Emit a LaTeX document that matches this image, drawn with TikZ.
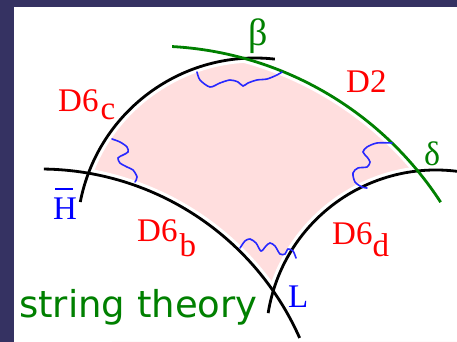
\documentclass[tikz,border=0pt]{standalone}
\usepackage{fontspec}
\setmainfont{Liberation Serif}
\newfontfamily\handfont{DejaVu Sans}
\definecolor{framenavy}{RGB}{53,50,98}
\definecolor{regionpink}{RGB}{255,222,222}
\definecolor{branegreen}{RGB}{0,128,0}
\definecolor{photonblue}{RGB}{40,40,255}
\begin{document}
\begin{tikzpicture}[
  x=1pt, y=1pt,
  brane/.style={line width=2.8pt, black},
  dtwo/.style={line width=2.8pt, branegreen},
  gapline/.style={line width=9pt, white},
  photon/.style={line width=1.6pt, photonblue, line cap=round},
  lbl/.style={inner sep=0pt, anchor=base west, font=\fontsize{33}{36}\selectfont}
]
  % frame
  \fill[framenavy] (0,0) rectangle (457,342);
  \fill[white] (14,0) rectangle (457,335);
  \useasboundingbox (0,0) rectangle (457,342);

  % circle centres of the branes
  \coordinate (cc) at (255,106);
  \coordinate (cb) at (40,-111);
  \coordinate (cd) at (436,2);
  \coordinate (cg) at (153,-47);

  % shaded region
  \begin{scope}
    \clip (cc) ++(178,0) arc[start angle=0, end angle=-360, radius=178]
          (300,0) -- (300,342) -- (457,342) -- (457,0) -- cycle;
    \clip (cg) circle[radius=343];
    \clip (0,0) -- (457,0) -- (457,342) -- (0,342) -- cycle
          (cb) ++(284,0) arc[start angle=0, end angle=-360, radius=284];
    \clip (0,0) -- (457,0) -- (457,342) -- (0,342) -- cycle
          (cd) ++(170,0) arc[start angle=0, end angle=-360, radius=170];
    \fill[regionpink] (0,0) rectangle (457,342);
  \end{scope}

  % white gaps along the branes
  \draw[gapline] (cc) ++(169:178) arc[start angle=169, end angle=83.6, radius=178];
  \draw[gapline] (cb) ++(89.2:284) arc[start angle=89.2, end angle=23.9, radius=284];
  \draw[gapline] (cd) ++(170.9:170) arc[start angle=170.9, end angle=82.9, radius=170];
  \draw[gapline] (cg) ++(86.8:343) arc[start angle=86.8, end angle=33, radius=343];

  % branes
  \draw[brane] (cc) ++(169:178) arc[start angle=169, end angle=83.6, radius=178];
  \draw[brane] (cb) ++(89.2:284) arc[start angle=89.2, end angle=23.9, radius=284];
  \draw[brane] (cd) ++(170.9:170) arc[start angle=170.9, end angle=82.9, radius=170];
  \draw[dtwo] (cg) ++(86.8:343) arc[start angle=86.8, end angle=33, radius=343];

  % strings
  \draw[photon] plot[smooth] coordinates {(197,270) (200,262) (210,255) (220,259) (230,262) (238,260) (243,256) (248,259) (257,262) (267,263) (277,267) (282,270)};
  \draw[photon] plot[smooth] coordinates {(112,203) (120,200) (127,195) (128,190) (123,187) (118,184) (120,179) (127,175) (133,172) (137,165) (135,160)};
  \draw[photon] plot[smooth] coordinates {(392,199) (377,199) (367,195) (363,190) (367,185) (370,180) (367,175) (358,174) (353,169) (355,160) (362,155) (367,154)};
  \draw[photon] plot[smooth] coordinates {(240,94) (245,101) (250,103) (256,99) (261,91) (266,96) (270,99) (275,96) (280,88) (285,88) (288,93) (293,91) (296,84)};

  % labels
  \node[lbl, branegreen, font=\fontsize{38}{40}\selectfont] (beta) at (248,296) {β};
  \node[lbl, red] (dtwolbl) at (346,249) {D2};
  \node[lbl, red] (dsixc) at (58,230) {D6\hspace{2pt}\raisebox{-8pt}{c}};
  \node[lbl, blue] (hbar) at (53,122) {\makebox[0pt][l]{\hspace{2pt}\rule[30pt]{18pt}{1.6pt}}H};
  \node[lbl, red] (dsixb) at (137,100) {D6\hspace{2pt}\raisebox{-15pt}{b}};
  \node[lbl, red] (dsixd) at (332,97) {D6\raisebox{-12pt}{d}};
  \node[lbl, blue] (lep) at (288,34) {L};
  \node[lbl, branegreen, font=\fontsize{34}{38}\selectfont] (delta) at (424,176) {δ};
  \node[lbl, branegreen, font=\handfont\fontsize{37}{40}\selectfont] (theory) at (19,24) {string theory};
\end{tikzpicture}
\end{document}
